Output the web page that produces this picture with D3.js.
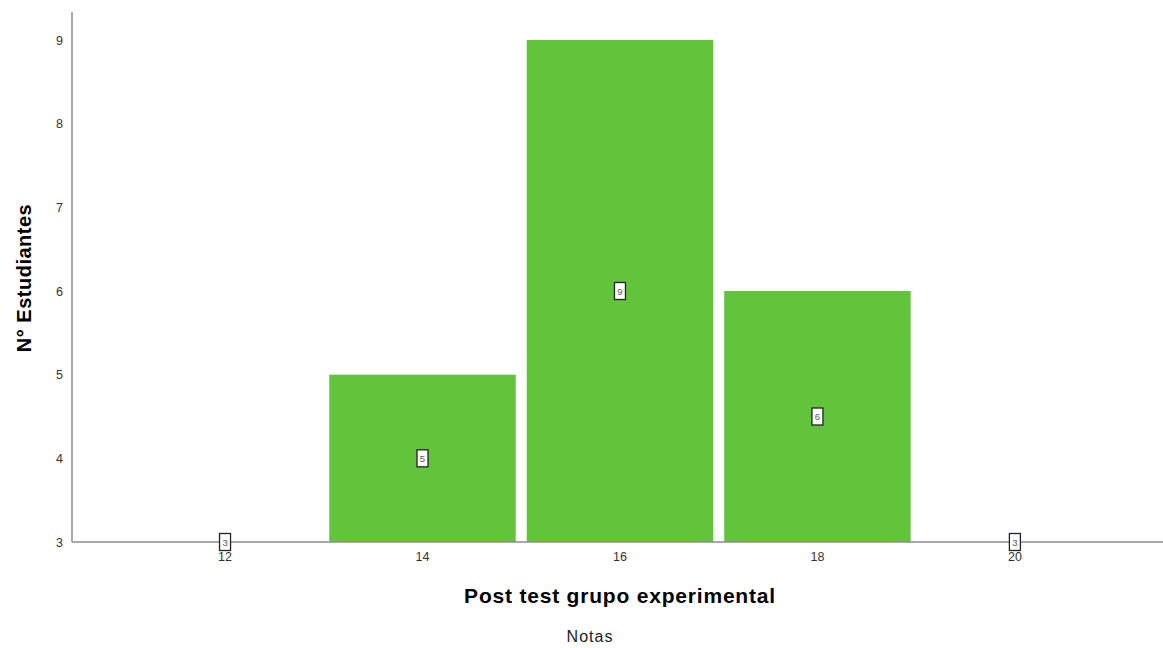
<!DOCTYPE html>
<html><head><meta charset="utf-8">
<script src="https://cdn.jsdelivr.net/npm/d3@7"></script>
<style>body{margin:0;background:#fff;}svg{display:block;}</style>
</head><body>
<svg id="c" width="1163" height="648"></svg>
<script>
const categories = [12, 14, 16, 18, 20];
const counts = [3, 5, 9, 6, 3];
const yTicks = [3, 4, 5, 6, 7, 8, 9];
const xTicks = [12, 14, 16, 18, 20];
const xTitle = "Post test grupo experimental";
const subTitle = "Notas";
const yTitle = "N° Estudiantes";

const svg = d3.select("#c");
const x = d3.scaleLinear().domain([10.45, 21.5]).range([72, 1163]);
const y = d3.scaleLinear().domain([3, 9]).range([542, 40]);
const base = 3;

// bars
svg.selectAll("rect.bar").data(categories.map((c,i)=>({c, v:counts[i]})).filter(d=>d.v>base))
  .enter().append("rect").attr("class","bar")
  .attr("x", d=>x(d.c-1)+5.5).attr("width", d=>x(d.c+1)-x(d.c-1)-11)
  .attr("y", d=>y(d.v)).attr("height", d=>y(base)-y(d.v))
  .attr("fill", "#61c43a");

// axes
const axisColor = "#8c8c8c";
svg.append("line").attr("x1",72).attr("x2",72).attr("y1",12).attr("y2",y(base)).attr("stroke",axisColor).attr("stroke-width",1.5);
svg.append("line").attr("x1",72).attr("x2",1163).attr("y1",y(base)).attr("y2",y(base)).attr("stroke",axisColor).attr("stroke-width",1.5);

svg.selectAll("text.yt").data(yTicks).enter().append("text")
  .attr("x",63).attr("y",d=>y(d)+4.5).attr("text-anchor","end")
  .attr("font-family","Liberation Sans, Arial, sans-serif").attr("font-size",12.5).attr("fill","#333")
  .text(d=>d);
svg.selectAll("text.xt").data(xTicks).enter().append("text")
  .attr("x",d=>x(d)).attr("y",y(base)+19).attr("text-anchor","middle")
  .attr("font-family","Liberation Sans, Arial, sans-serif").attr("font-size",12.5).attr("fill","#333")
  .text(d=>d);

// value labels
const lab = svg.selectAll("g.lab").data(categories.map((c,i)=>({c, v:counts[i]})))
  .enter().append("g").attr("class","lab")
  .attr("transform", d=>`translate(${x(d.c)},${y((d.v+base)/2)})`);
lab.append("rect").attr("x",-5.5).attr("y",-8.5).attr("width",11).attr("height",17)
  .attr("fill","#fff").attr("stroke","#222").attr("stroke-width",1.3);
lab.append("text").attr("y",3.5).attr("text-anchor","middle")
  .attr("font-family","Liberation Sans, Arial, sans-serif").attr("font-size",9.5).attr("fill","#555")
  .text(d=>d.v);

// titles
svg.append("text").attr("x",620).attr("y",603).attr("text-anchor","middle")
  .attr("font-family","Liberation Sans, Arial, sans-serif").attr("font-size",21).attr("font-weight","bold")
  .attr("letter-spacing",0.8).attr("fill","#000")
  .text(xTitle);
svg.append("text").attr("x",590).attr("y",642).attr("text-anchor","middle")
  .attr("font-family","Liberation Sans, Arial, sans-serif").attr("font-size",16).attr("letter-spacing",1)
  .attr("fill","#222")
  .text(subTitle);
svg.append("text").attr("transform","translate(31,278) rotate(-90)").attr("text-anchor","middle")
  .attr("font-family","Liberation Sans, Arial, sans-serif").attr("font-size",20).attr("font-weight","bold")
  .attr("letter-spacing",0.5).attr("fill","#000")
  .text(yTitle);
</script>
</body></html>
